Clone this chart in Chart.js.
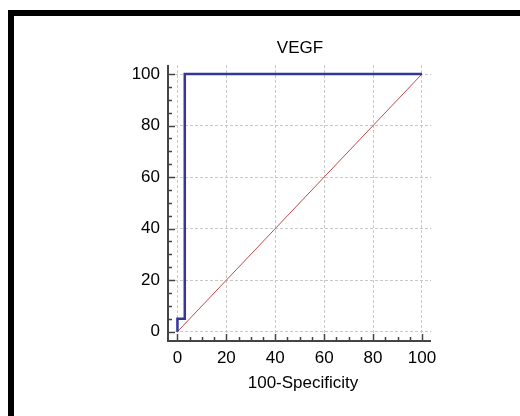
<!DOCTYPE html>
<html>
<head>
<meta charset="utf-8">
<script src="https://cdn.jsdelivr.net/npm/chart.js@4"></script>
<style>
html,body{margin:0;padding:0;background:#fff;}
#wrap{position:relative;width:520px;height:416px;overflow:hidden;}
#c{position:absolute;left:0;top:0;}
.bar{position:absolute;background:#000;}
</style>
</head>
<body>
<div id="wrap">
<canvas id="c" width="520" height="416"></canvas>
<div class="bar" style="left:8px;top:10px;width:512px;height:6px;"></div>
<div class="bar" style="left:8px;top:10px;width:6px;height:406px;"></div>
</div>
<script>
const chartTitle = "VEGF";
const xTitle = "100-Specificity";
const rocX = [0, 0, 3, 3, 100];
const rocY = [0, 5, 5, 100, 100];
const refX = [0, 100];
const refY = [0, 100];
const majorTicks = [0, 20, 40, 60, 80, 100];
const minorStep = 5;

const toPts = (xs, ys) => xs.map((x, i) => ({x: x, y: ys[i]}));

const axisPlugin = {
  id: 'offsetAxes',
  afterDraw(chart) {
    const ctx = chart.ctx;
    const xs = chart.scales.x, ys = chart.scales.y;
    const axX = 168, axY = 341;
    ctx.save();
    ctx.strokeStyle = '#444';
    ctx.lineWidth = 2;
    ctx.beginPath();
    ctx.moveTo(axX, chart.chartArea.top);
    ctx.lineTo(axX, axY + 1);
    ctx.moveTo(axX - 1, axY);
    ctx.lineTo(chart.chartArea.right, axY);
    ctx.stroke();
    ctx.lineWidth = 1.5;
    ctx.beginPath();
    for (let v = 0; v <= 100; v += minorStep) {
      const major = majorTicks.includes(v);
      const len = major ? 7 : 4;
      const px = Math.round(xs.getPixelForValue(v)) + 0.5;
      ctx.moveTo(px, axY);
      ctx.lineTo(px, axY - len);
      const py = Math.round(ys.getPixelForValue(v)) + 0.5;
      ctx.moveTo(axX, py);
      ctx.lineTo(axX + len, py);
    }
    ctx.stroke();
    ctx.restore();
  }
};

const FONT = 'Liberation Sans, Arial, sans-serif';

new Chart(document.getElementById('c'), {
  type: 'scatter',
  data: {
    datasets: [
      {
        data: toPts(refX, refY),
        showLine: true,
        borderColor: '#c24a4a',
        borderWidth: 1,
        pointRadius: 0,
        tension: 0,
        order: 2
      },
      {
        data: toPts(rocX, rocY),
        showLine: true,
        borderColor: '#35359a',
        borderWidth: 2.5,
        pointRadius: 0,
        tension: 0,
        order: 1
      }
    ]
  },
  options: {
    responsive: false,
    animation: false,
    devicePixelRatio: 1,
    layout: {padding: {left: 120, right: 40, top: 0, bottom: 0}},
    plugins: {
      legend: {display: false},
      tooltip: {enabled: false},
      title: {
        display: true,
        text: chartTitle,
        color: '#000',
        font: {family: FONT, size: 17, weight: 'normal'},
        padding: {top: 37.8, bottom: 6.8}
      }
    },
    scales: {
      x: {
        type: 'linear',
        min: -1.0,
        max: 103.7,
        afterBuildTicks: s => { s.ticks = majorTicks.map(v => ({value: v})); },
        afterFit: s => { s.height = 82; },
        ticks: {
          includeBounds: false,
          color: '#000',
          padding: 14,
          maxRotation: 0,
          font: {family: FONT, size: 17}
        },
        grid: {color: '#c8c8c8', lineWidth: 1, drawTicks: false},
        border: {display: false, dash: [3, 2]},
        title: {
          display: true,
          text: xTitle,
          color: '#000',
          font: {family: FONT, size: 17},
          padding: {top: 0, bottom: 22}
        }
      },
      y: {
        type: 'linear',
        min: -0.9,
        max: 103.5,
        afterBuildTicks: s => { s.ticks = majorTicks.map(v => ({value: v})); },
        afterFit: s => { s.width = 55; },
        ticks: {
          includeBounds: false,
          color: '#000',
          padding: 15,
          font: {family: FONT, size: 17}
        },
        grid: {color: '#c8c8c8', lineWidth: 1, drawTicks: false},
        border: {display: false, dash: [3, 2]}
      },
      yPad: {
        type: 'linear',
        position: 'right',
        display: true,
        afterFit: s => { s.width = 49; },
        ticks: {display: false},
        grid: {display: false, drawTicks: false},
        border: {display: false}
      }
    }
  },
  plugins: [axisPlugin]
});
</script>
</body>
</html>
